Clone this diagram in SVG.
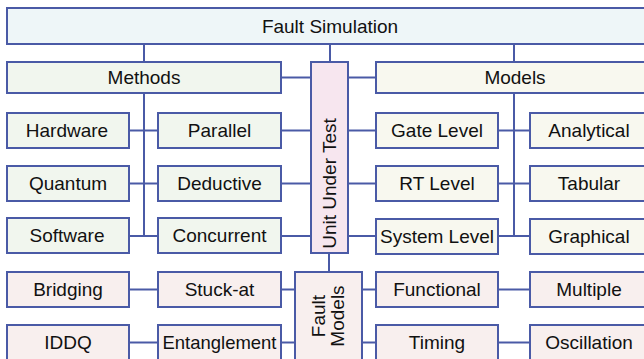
<svg xmlns="http://www.w3.org/2000/svg" width="644" height="359" viewBox="0 0 644 359">
<style>
rect{stroke:#4a5aa6;stroke-width:2}
.top{fill:#eef6f8}
.m{fill:#f1f6ee}
.d{fill:#f8f8ef}
.u{fill:#f7e6ef}
.f{fill:#f8efee}
text{font-family:"Liberation Sans",Arial,sans-serif;font-size:19px;fill:#111;text-anchor:middle;dominant-baseline:central}
#connectors line{stroke:#4a5aa6;stroke-width:2}
</style>
<rect width="644" height="359" fill="#fff" style="stroke:none"/>
<g id="connectors">
<line x1="144" y1="44" x2="144" y2="62"/>
<line x1="330" y1="44" x2="330" y2="62"/>
<line x1="514" y1="44" x2="514" y2="62"/>
<line x1="144" y1="93" x2="144" y2="236"/>
<line x1="514" y1="93" x2="514" y2="236"/>
<line x1="281" y1="77.5" x2="311" y2="77.5"/>
<line x1="348" y1="77.5" x2="376" y2="77.5"/>
<line x1="129" y1="130.5" x2="158" y2="130.5"/>
<line x1="129" y1="183.5" x2="158" y2="183.5"/>
<line x1="129" y1="236" x2="158" y2="236"/>
<line x1="281" y1="130.5" x2="311" y2="130.5"/>
<line x1="281" y1="183.5" x2="311" y2="183.5"/>
<line x1="281" y1="236" x2="311" y2="236"/>
<line x1="348" y1="130.5" x2="376" y2="130.5"/>
<line x1="348" y1="183.5" x2="376" y2="183.5"/>
<line x1="348" y1="236" x2="376" y2="236"/>
<line x1="498" y1="130.5" x2="530" y2="130.5"/>
<line x1="498" y1="183.5" x2="530" y2="183.5"/>
<line x1="498" y1="236" x2="530" y2="236"/>
<line x1="329" y1="253" x2="329" y2="272"/>
<line x1="129" y1="289.5" x2="158" y2="289.5"/>
<line x1="129" y1="342.5" x2="158" y2="342.5"/>
<line x1="281" y1="289.5" x2="295" y2="289.5"/>
<line x1="281" y1="342.5" x2="295" y2="342.5"/>
<line x1="362" y1="289.5" x2="376" y2="289.5"/>
<line x1="362" y1="342.5" x2="376" y2="342.5"/>
<line x1="498" y1="289.5" x2="530" y2="289.5"/>
<line x1="498" y1="342.5" x2="530" y2="342.5"/>
</g>
<g id="fault-simulation"><rect class="top" x="7" y="8" width="646" height="36"/><text x="330" y="26">Fault Simulation</text></g>
<g id="methods"><rect class="m" x="7" y="62" width="274" height="31"/><text x="144" y="77.5">Methods</text></g>
<g id="models"><rect class="d" x="376" y="62" width="278" height="31"/><text x="515" y="77.5">Models</text></g>
<g id="unit-under-test"><rect class="u" x="311" y="62" width="37" height="191"/><text transform="translate(329.5 183.5) rotate(-90)">Unit Under Test</text></g>
<g id="hardware"><rect class="m" x="7" y="113" width="122" height="35"/><text x="67" y="130.5">Hardware</text></g>
<g id="quantum"><rect class="m" x="7" y="166" width="122" height="35"/><text x="68" y="183.5">Quantum</text></g>
<g id="software"><rect class="m" x="7" y="218" width="122" height="35"/><text x="67" y="235.5">Software</text></g>
<g id="parallel"><rect class="m" x="158" y="113" width="123" height="35"/><text x="219.5" y="130.5">Parallel</text></g>
<g id="deductive"><rect class="m" x="158" y="166" width="123" height="35"/><text x="219.5" y="183.5">Deductive</text></g>
<g id="concurrent"><rect class="m" x="158" y="218" width="123" height="35"/><text x="219.5" y="235.5">Concurrent</text></g>
<g id="gate-level"><rect class="d" x="376" y="113" width="122" height="35"/><text x="437" y="130.5">Gate Level</text></g>
<g id="rt-level"><rect class="d" x="376" y="166" width="122" height="35"/><text x="437" y="183.5">RT Level</text></g>
<g id="system-level"><rect class="d" x="376" y="219" width="122" height="35"/><text x="437" y="236.5" textLength="114" lengthAdjust="spacingAndGlyphs">System Level</text></g>
<g id="analytical"><rect class="d" x="530" y="113" width="120" height="35"/><text x="589" y="130.5">Analytical</text></g>
<g id="tabular"><rect class="d" x="530" y="166" width="120" height="35"/><text x="589" y="183.5">Tabular</text></g>
<g id="graphical"><rect class="d" x="530" y="219" width="120" height="35"/><text x="589" y="236.5">Graphical</text></g>
<g id="fault-models"><rect class="f" x="295" y="272" width="67" height="95"/><text transform="translate(327 316) rotate(-90)"><tspan x="0" y="-9.5">Fault</tspan><tspan x="0" y="9.5">Models</tspan></text></g>
<g id="bridging"><rect class="f" x="7" y="272" width="122" height="35"/><text x="68" y="289.5">Bridging</text></g>
<g id="iddq"><rect class="f" x="7" y="325" width="122" height="40"/><text x="68" y="342">IDDQ</text></g>
<g id="stuck-at"><rect class="f" x="158" y="272" width="123" height="35"/><text x="219.5" y="289.5">Stuck-at</text></g>
<g id="entanglement"><rect class="f" x="158" y="325" width="123" height="40"/><text x="219.5" y="342" textLength="114" lengthAdjust="spacingAndGlyphs">Entanglement</text></g>
<g id="functional"><rect class="f" x="376" y="272" width="122" height="35"/><text x="437" y="289.5">Functional</text></g>
<g id="timing"><rect class="f" x="376" y="325" width="122" height="40"/><text x="437" y="342">Timing</text></g>
<g id="multiple"><rect class="f" x="530" y="272" width="120" height="35"/><text x="589" y="289.5">Multiple</text></g>
<g id="oscillation"><rect class="f" x="530" y="325" width="120" height="40"/><text x="589" y="342">Oscillation</text></g>
</svg>
